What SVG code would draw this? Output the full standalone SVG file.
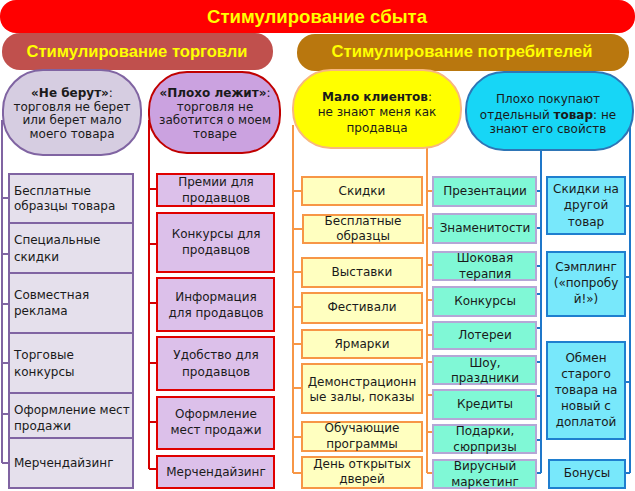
<svg xmlns="http://www.w3.org/2000/svg" width="635" height="491" viewBox="0 0 635 491">
<style>
text{font-family:"DejaVu Sans","Liberation Sans",sans-serif;font-size:12px;fill:#1a1a1a}
.c{text-anchor:middle}
.h{font-family:"Liberation Sans","DejaVu Sans",sans-serif;font-weight:bold;fill:#ffff00;font-size:16.5px}
.t{font-size:19px}
.b{font-weight:bold}
.ln{fill:none;stroke-width:2}
.pl{stroke:#8064a2}.rl{stroke:#d40000}.ol{stroke:#f79646}.bl{stroke:#1f77c9}
.bxp{fill:#e5e0ec;stroke:#8064a2;stroke-width:2}
.bxr{fill:#dcc0ea;stroke:#e00000;stroke-width:2}
.bxy{fill:#ffffc0;stroke:#f79646;stroke-width:2}
.bxt{fill:#80f8d6;stroke:#b4a7d6;stroke-width:2}
.bxb{fill:#78e8fb;stroke:#1f7fcf;stroke-width:2}
</style>
<g id="title">
<rect x="0" y="0" width="635" height="33" rx="16" fill="#ff0000"/>
<text class="c h t" x="317" y="23" textLength="220" lengthAdjust="spacingAndGlyphs">Стимулирование сбыта</text>
</g>
<g id="sub-trade">
<rect x="2" y="33" width="271" height="37" rx="18" fill="#c0504d"/>
<text class="c h" x="137" y="57" textLength="221" lengthAdjust="spacingAndGlyphs">Стимулирование торговли</text>
</g>
<g id="sub-consumer">
<rect x="297" y="34" width="332" height="37" rx="18" fill="#b9770e"/>
<text class="c h" x="462" y="57" textLength="261" lengthAdjust="spacingAndGlyphs">Стимулирование потребителей</text>
</g>
<g id="connectors">
<path class="ln pl" d="M2,120V463M2,198H9M2,254H9M2,304H9M2,363H9M2,414H9M2,463H9"/>
<path class="ln rl" d="M149,120V469M149,189H157M149,244H157M149,303H157M149,363H157M149,422H157M149,469H157"/>
<path class="ln ol" d="M293,125V473M293,191H302M293,229H302M293,272H302M293,307H302M293,344H302M293,388H302M293,437H302M293,473H302"/>
<path class="ln ol" d="M427,146V473M427,191H433M427,228H433M427,265H433M427,300H433M427,335H433M427,362H433M427,395H433M427,432H433M427,473H433"/>
<path class="ln bl" d="M541,148V473M536,191H541M536,228H541M536,266H541M536,294H541M536,328H541M536,362H541M536,396H541M536,440H541M536,473H541"/>
<path class="ln bl" d="M630,120V473M625,206H630M625,277H630M625,382H630M625,473H630"/>
</g>
<g id="node-neberut">
<rect x="3" y="70" width="138" height="85" rx="40" fill="#d6cde1" stroke="#8064a2" stroke-width="2"/>
<text class="c" x="72" y="97"><tspan class="b">«Не берут»</tspan>:</text>
<text class="c" x="72" y="111">торговля не берет</text>
<text class="c" x="72" y="124">или берет мало</text>
<text class="c" x="72" y="138">моего товара</text>
</g>
<g id="node-ploho">
<rect x="149" y="72" width="131" height="81" rx="38" fill="#cba2e0" stroke="#c00000" stroke-width="2"/>
<text class="c" x="215" y="97"><tspan class="b">«Плохо лежит»</tspan>:</text>
<text class="c" x="215" y="111">торговля не</text>
<text class="c" x="215" y="124">заботится о моем</text>
<text class="c" x="215" y="138">товаре</text>
</g>
<g id="node-malo">
<rect x="293" y="70" width="168" height="78" rx="38" fill="#ffff00" stroke="#f8b77e" stroke-width="2"/>
<text class="c" x="377" y="101"><tspan class="b">Мало клиентов</tspan>:</text>
<text class="c" x="377" y="116">не знают меня как</text>
<text class="c" x="377" y="132">продавца</text>
</g>
<g id="node-tovar">
<rect x="466" y="72" width="167" height="78" rx="38" fill="#17d6f6" stroke="#2e75b6" stroke-width="2"/>
<text class="c" x="548" y="103">Плохо покупают</text>
<text class="c" x="548" y="119">отдельный <tspan class="b">товар</tspan>: не</text>
<text class="c" x="548" y="133">знают его свойств</text>
</g>
<g id="trade-boxes">
<g id="t1"><rect class="bxp" x="9" y="174" width="124" height="49"/><text x="14" y="195">Бесплатные</text><text x="14" y="210">образцы товара</text></g>
<g id="t2"><rect class="bxp" x="9" y="223" width="124" height="50"/><text x="14" y="244">Специальные</text><text x="14" y="261">скидки</text></g>
<g id="t3"><rect class="bxp" x="9" y="273" width="124" height="60"/><text x="14" y="299">Совместная</text><text x="14" y="315">реклама</text></g>
<g id="t4"><rect class="bxp" x="9" y="333" width="124" height="60"/><text x="14" y="359">Торговые</text><text x="14" y="376">конкурсы</text></g>
<g id="t5"><rect class="bxp" x="9" y="393" width="124" height="45"/><text x="14" y="414">Оформление мест</text><text x="14" y="430">продажи</text></g>
<g id="t6"><rect class="bxp" x="9" y="438" width="124" height="50"/><text x="14" y="467">Мерчендайзинг</text></g>
</g>
<g id="seller-boxes">
<g id="s1"><rect class="bxr" x="157" y="174" width="117" height="32"/><text class="c" x="216" y="186">Премии для</text><text class="c" x="216" y="202">продавцов</text></g>
<g id="s2"><rect class="bxr" x="157" y="213" width="117" height="59"/><text class="c" x="216" y="238">Конкурсы для</text><text class="c" x="216" y="254">продавцов</text></g>
<g id="s3"><rect class="bxr" x="157" y="278" width="117" height="53"/><text class="c" x="216" y="301">Информация</text><text class="c" x="216" y="317">для продавцов</text></g>
<g id="s4"><rect class="bxr" x="157" y="337" width="117" height="53"/><text class="c" x="216" y="359">Удобство для</text><text class="c" x="216" y="376">продавцов</text></g>
<g id="s5"><rect class="bxr" x="157" y="397" width="117" height="52"/><text class="c" x="216" y="418">Оформление</text><text class="c" x="216" y="434">мест продажи</text></g>
<g id="s6"><rect class="bxr" x="157" y="456" width="117" height="32"/><text class="c" x="216" y="476">Мерчендайзинг</text></g>
</g>
<g id="client-boxes">
<g id="y1"><rect class="bxy" x="302" y="177" width="120" height="28"/><text class="c" x="362" y="195">Скидки</text></g>
<g id="y2"><rect class="bxy" x="303" y="215" width="120" height="28"/><text class="c" x="363" y="225">Бесплатные</text><text class="c" x="363" y="240">образцы</text></g>
<g id="y3"><rect class="bxy" x="302" y="258" width="120" height="29"/><text class="c" x="362" y="276">Выставки</text></g>
<g id="y4"><rect class="bxy" x="302" y="293" width="120" height="30"/><text class="c" x="362" y="311">Фестивали</text></g>
<g id="y5"><rect class="bxy" x="302" y="330" width="120" height="28"/><text class="c" x="362" y="348">Ярмарки</text></g>
<g id="y6"><rect class="bxy" x="302" y="364" width="120" height="49"/><text class="c" x="362" y="386">Демонстрационн</text><text class="c" x="362" y="401">ые залы, показы</text></g>
<g id="y7"><rect class="bxy" x="302" y="422" width="120" height="29"/><text class="c" x="362" y="432">Обучающие</text><text class="c" x="362" y="448">программы</text></g>
<g id="y8"><rect class="bxy" x="302" y="457" width="120" height="31"/><text class="c" x="362" y="468">День открытых</text><text class="c" x="362" y="483">дверей</text></g>
</g>
<g id="product-boxes">
<g id="p1"><rect class="bxt" x="433" y="177" width="103" height="29"/><text class="c" x="485" y="195">Презентации</text></g>
<g id="p2"><rect class="bxt" x="433" y="214" width="103" height="29"/><text class="c" x="485" y="232">Знаменитости</text></g>
<g id="p3"><rect class="bxt" x="433" y="252" width="103" height="28"/><text class="c" x="485" y="262">Шоковая</text><text class="c" x="485" y="278">терапия</text></g>
<g id="p4"><rect class="bxt" x="433" y="287" width="103" height="29"/><text class="c" x="485" y="305">Конкурсы</text></g>
<g id="p5"><rect class="bxt" x="433" y="322" width="103" height="27"/><text class="c" x="485" y="339">Лотереи</text></g>
<g id="p6"><rect class="bxt" x="433" y="356" width="103" height="28"/><text class="c" x="485" y="367">Шоу,</text><text class="c" x="485" y="382">праздники</text></g>
<g id="p7"><rect class="bxt" x="433" y="390" width="103" height="29"/><text class="c" x="485" y="408">Кредиты</text></g>
<g id="p8"><rect class="bxt" x="433" y="425" width="103" height="28"/><text class="c" x="485" y="435">Подарки,</text><text class="c" x="485" y="451">сюрпризы</text></g>
<g id="p9"><rect class="bxt" x="433" y="460" width="103" height="28"/><text class="c" x="485" y="470">Вирусный</text><text class="c" x="485" y="486">маркетинг</text></g>
</g>
<g id="goods-boxes">
<g id="g1"><rect class="bxb" x="547" y="177" width="78" height="57"/><text class="c" x="586" y="193">Скидки на</text><text class="c" x="586" y="209">другой</text><text class="c" x="586" y="226">товар</text></g>
<g id="g2"><rect class="bxb" x="547" y="252" width="78" height="64"/><text class="c" x="586" y="271">Сэмплинг</text><text class="c" x="586" y="287">(«попробу</text><text class="c" x="586" y="303">й!»)</text></g>
<g id="g3"><rect class="bxb" x="547" y="342" width="78" height="97"/><text class="c" x="586" y="362">Обмен</text><text class="c" x="586" y="378">старого</text><text class="c" x="586" y="394">товара на</text><text class="c" x="586" y="410">новый с</text><text class="c" x="586" y="426">доплатой</text></g>
<g id="g4"><rect class="bxb" x="549" y="460" width="76" height="28"/><text class="c" x="587" y="477">Бонусы</text></g>
</g>
</svg>
